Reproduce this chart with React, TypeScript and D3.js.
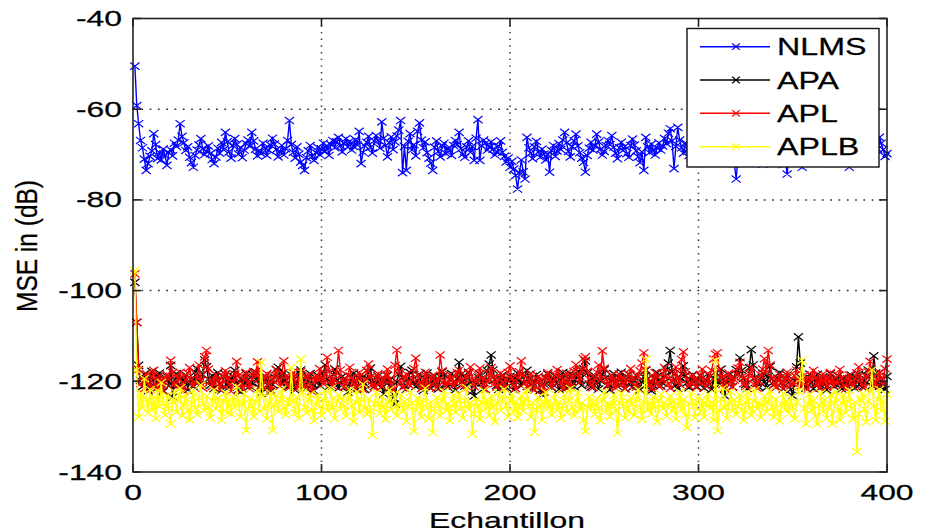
import React from "react";
import * as d3 from "d3";

const seriesNames = ["NLMS", "APA", "APL", "APLB"];
const seriesColors = ["#0000ff", "#000000", "#ff0000", "#ffff00"];
const xTicks = [0, 100, 200, 300, 400];
const yTicks = [-40, -60, -80, -100, -120, -140];

const nlms = [
  -50.5, -59.2, -63.2, -66.9, -68.5, -71.0, -73.5, -72.0, -70.4, -69.2, -65.4, -67.8, -70.9, -69.5, -71.2, -68.8, -70.1, -72.4, -69.6, -68.9,
  -70.3, -67.5, -68.2, -66.8, -63.2, -66.0, -67.4, -69.1, -68.3, -70.6, -71.8, -72.8, -70.2, -69.0, -67.9, -66.5, -68.7, -70.0, -69.3, -68.1,
  -69.8, -71.1, -72.0, -70.5, -68.6, -69.7, -67.3, -68.9, -65.1, -67.2, -69.4, -70.8, -68.0, -66.5, -67.8, -69.9, -68.4, -70.7, -69.0, -67.6,
  -66.8, -68.2, -65.1, -67.0, -68.8, -70.3, -69.1, -69.8, -67.5, -68.6, -70.2, -69.0, -67.9, -66.4, -67.7, -68.9, -70.5, -69.3, -68.0, -70.1,
  -68.7, -66.9, -62.5, -67.8, -69.5, -70.8, -68.3, -69.9, -71.6, -72.4, -73.5, -70.7, -69.2, -68.0, -70.4, -71.3, -69.6, -68.4, -70.0, -68.8,
  -67.5, -69.3, -68.1, -70.2, -67.8, -66.9, -68.5, -67.2, -66.2, -68.0, -69.4, -67.6, -66.5, -68.3, -67.1, -69.0, -68.2, -66.7, -67.9, -64.9,
  -72.0, -69.5, -68.1, -67.3, -66.0, -68.4, -69.7, -67.0, -65.8, -66.9, -68.6, -62.8, -66.4, -68.0, -70.5, -67.4, -66.1, -68.9, -67.2, -65.9,
  -64.6, -62.5, -74.0, -68.2, -73.5, -67.1, -65.4, -69.0, -67.8, -70.3, -64.9, -63.0, -66.8, -68.5, -67.2, -69.6, -70.8, -71.9, -73.5, -68.4,
  -67.0, -69.3, -70.5, -68.1, -67.5, -69.8, -68.6, -69.1, -70.2, -68.0, -66.9, -67.8, -65.1, -68.7, -69.9, -70.6, -68.3, -67.0, -69.5, -68.2,
  -71.3, -66.4, -62.3, -71.3, -68.1, -66.8, -67.5, -69.0, -68.4, -67.2, -68.8, -70.1, -69.4, -68.2, -67.0, -69.5, -70.4, -71.6, -70.8, -72.8,
  -71.5, -73.2, -74.6, -77.6, -74.0, -71.2, -73.8, -75.4, -66.2, -68.5, -69.7, -70.9, -68.3, -67.1, -69.4, -70.6, -68.8, -69.9, -71.2, -70.0,
  -73.9, -69.1, -68.0, -70.4, -69.2, -67.6, -68.9, -66.8, -65.1, -67.4, -69.3, -70.5, -68.2, -67.0, -65.5, -68.1, -69.6, -70.8, -71.7, -73.9,
  -70.2, -68.6, -67.3, -69.0, -68.1, -65.5, -67.2, -68.8, -70.1, -69.3, -68.0, -66.9, -67.8, -65.8, -68.4, -69.7, -70.9, -68.5, -67.3, -69.1,
  -68.2, -69.8, -70.6, -68.0, -66.6, -67.9, -69.2, -70.5, -71.8, -69.4, -73.5, -66.2, -68.3, -69.6, -67.7, -68.9, -70.1, -68.6, -67.4, -69.0,
  -68.1, -66.5, -67.6, -65.3, -64.3, -67.0, -73.1, -68.2, -64.0, -66.8, -68.5, -69.7, -67.4, -68.8, -70.2, -69.1, -67.9, -68.6, -70.0, -69.2,
  -68.4, -67.1, -69.5, -70.8, -68.7, -67.5, -69.0, -71.4, -68.3, -67.2, -69.6, -70.4, -68.1, -66.9, -68.8, -70.3, -71.6, -69.2, -72.0, -75.4,
  -70.1, -68.5, -67.3, -69.4, -70.7, -68.6, -67.8, -69.9, -71.2, -68.4, -67.0, -69.3, -70.5, -72.1, -69.0, -67.7, -68.9, -70.2, -71.5, -69.8,
  -68.3, -67.1, -69.0, -70.6, -72.2, -71.0, -74.3, -70.4, -68.8, -69.5, -71.3, -70.0, -68.6, -71.9, -72.8, -70.2, -68.9, -67.6, -69.8, -71.4,
  -69.3, -68.1, -70.0, -71.2, -69.6, -68.4, -67.2, -69.1, -70.5, -72.0, -70.3, -68.7, -69.9, -71.5, -70.1, -68.5, -69.4, -71.0, -70.2, -72.8,
  -70.6, -69.0, -68.2, -70.1, -71.3, -69.5, -68.0, -69.7, -70.9, -71.8, -69.3, -68.1, -67.4, -66.9, -68.8, -66.2, -67.5, -68.9, -70.4, -69.8,
];

const apa = [
  -98.2, -107.0, -116.5, -119.8, -121.2, -118.4, -120.6, -122.1, -119.3, -117.8, -120.9, -121.7, -119.0, -118.2, -120.4, -122.3, -119.6, -118.9, -121.0, -116.5,
  -123.5, -119.7, -118.3, -120.8, -121.5, -119.2, -120.1, -118.6, -121.9, -120.3, -119.4, -121.2, -118.0, -117.2, -119.9, -120.7, -118.5, -115.3, -116.8, -119.5,
  -120.9, -118.7, -121.6, -119.8, -118.1, -120.5, -122.0, -119.1, -118.4, -120.6, -121.3, -119.7, -118.9, -117.6, -120.2, -121.8, -122.4, -119.5, -120.8, -118.3,
  -119.6, -121.1, -120.3, -118.7, -117.9, -119.8, -121.4, -122.6, -120.0, -118.8, -119.5, -121.0, -122.2, -120.7, -119.1, -117.4, -116.9, -119.3, -120.6, -118.2,
  -119.9, -121.3, -120.4, -118.6, -119.7, -121.9, -120.2, -118.1, -117.5, -119.4, -120.8, -121.6, -119.0, -118.3, -120.5, -122.1, -119.8, -118.7, -120.9, -119.2,
  -118.0, -116.4, -119.6, -121.2, -120.1, -118.5, -117.3, -119.8, -121.5, -120.3, -118.9, -119.7, -121.0, -122.4, -120.6, -119.1, -118.2, -120.4, -121.7, -119.5,
  -118.6, -120.2, -121.8, -119.3, -118.0, -117.1, -119.9, -121.1, -120.5, -118.8, -119.6, -121.4, -122.8, -120.0, -118.7, -119.8, -121.3, -123.6, -125.0, -120.1,
  -118.4, -116.7, -119.2, -120.9, -121.8, -119.5, -118.1, -117.6, -120.3, -121.2, -119.8, -118.5, -120.7, -122.0, -119.4, -118.2, -120.6, -121.5, -119.9, -118.8,
  -120.1, -121.7, -119.0, -117.9, -118.6, -120.8, -121.3, -119.6, -118.3, -120.2, -121.9, -119.4, -115.8, -118.5, -120.0, -121.1, -119.3, -118.0, -120.5, -122.2,
  -123.2, -120.6, -119.1, -118.4, -120.3, -121.6, -119.8, -117.7, -116.2, -114.2, -117.5, -119.6, -120.9, -121.8, -119.3, -118.6, -120.1, -121.4, -119.7, -118.9,
  -120.4, -121.9, -119.5, -118.2, -119.8, -121.0, -120.3, -118.7, -117.6, -119.4, -120.8, -121.7, -119.9, -118.5, -120.2, -122.0, -123.0, -120.6, -119.2, -118.4,
  -120.0, -121.4, -119.7, -118.9, -120.5, -121.8, -119.3, -118.1, -120.7, -121.5, -119.6, -118.3, -120.1, -121.2, -119.0, -117.8, -119.5, -120.9, -117.2, -115.5,
  -118.2, -120.6, -121.3, -119.4, -118.8, -120.2, -121.7, -119.9, -118.5, -117.4, -119.1, -120.8, -121.9, -119.6, -118.3, -120.4, -121.1, -119.2, -118.0, -120.3,
  -121.6, -119.5, -118.4, -120.1, -121.3, -119.8, -118.6, -120.7, -121.9, -120.2, -119.0, -117.6, -119.4, -120.6, -122.1, -120.8, -119.3, -118.1, -119.7, -121.0,
  -120.4, -118.9, -117.5, -116.0, -113.2, -117.8, -119.6, -120.9, -121.5, -119.2, -118.4, -116.6, -118.8, -120.3, -121.4, -119.7, -118.5, -120.0, -121.2, -119.6,
  -118.7, -120.1, -121.5, -119.9, -118.3, -120.6, -121.8, -119.4, -118.0, -119.7, -120.8, -117.3, -119.5, -123.2, -120.4, -118.6, -119.9, -121.2, -119.0, -117.4,
  -118.5, -114.8, -117.6, -119.3, -120.7, -121.6, -117.0, -113.0, -116.4, -119.1, -120.5, -121.3, -119.6, -118.2, -120.1, -121.4, -118.9, -116.7, -119.5, -120.8,
  -121.2, -119.3, -118.1, -120.4, -121.7, -119.5, -118.6, -120.2, -121.8, -123.2, -119.9, -116.8, -110.2, -116.0, -119.4, -120.7, -121.5, -119.8, -118.4, -120.3,
  -121.6, -119.7, -118.5, -120.1, -121.4, -119.0, -120.6, -121.9, -119.4, -118.3, -120.0, -121.2, -119.6, -118.8, -120.5, -121.7, -119.3, -120.2, -121.0, -119.8,
  -118.6, -120.4, -121.5, -119.2, -118.4, -120.7, -121.3, -119.9, -118.7, -117.5, -119.6, -121.0, -114.4, -118.2, -120.3, -121.1, -119.4, -120.6, -121.8, -118.9,
];

const apl = [
  -96.3, -107.0, -117.4, -120.5, -119.1, -121.6, -118.3, -120.2, -121.9, -119.0, -117.6, -120.7, -121.4, -118.8, -119.9, -122.0, -120.3, -118.5, -119.6, -115.4,
  -118.1, -120.6, -121.3, -119.4, -118.0, -120.9, -122.1, -119.7, -118.2, -117.0, -119.5, -121.0, -120.2, -118.6, -116.4, -119.8, -121.5, -114.6, -113.2, -117.3,
  -119.9, -121.2, -120.4, -118.5, -119.7, -121.8, -120.6, -118.9, -117.7, -119.3, -120.8, -122.2, -120.0, -118.4, -115.6, -118.7, -120.5, -121.6, -119.2, -118.0,
  -120.3, -121.7, -119.6, -117.8, -118.5, -115.7, -119.4, -120.9, -121.5, -119.1, -118.3, -120.6, -121.9, -119.7, -118.6, -117.4, -119.8, -121.1, -118.2, -115.5,
  -118.9, -120.7, -121.4, -119.5, -118.1, -120.2, -121.6, -119.3, -117.9, -120.4, -121.2, -119.0, -118.5, -120.8, -122.3, -120.1, -118.8, -119.7, -117.2, -119.4,
  -120.6, -118.3, -114.7, -117.8, -119.9, -121.1, -119.6, -118.2, -113.2, -117.5, -119.8, -121.3, -120.0, -118.7, -116.9, -119.2, -120.5, -121.7, -119.3, -118.1,
  -120.4, -121.8, -119.7, -117.6, -116.2, -119.0, -120.8, -121.5, -119.4, -118.3, -120.1, -121.2, -119.8, -118.6, -117.3, -119.5, -120.7, -121.9, -116.5, -113.1,
  -117.9, -120.3, -121.4, -119.1, -118.4, -120.6, -121.0, -119.5, -117.2, -114.9, -118.6, -120.2, -121.6, -119.7, -118.0, -120.5, -121.3, -119.2, -118.7, -120.0,
  -121.5, -119.6, -114.2, -117.7, -119.9, -121.1, -120.3, -118.5, -119.4, -121.0, -120.2, -118.1, -117.5, -119.6, -120.8, -121.7, -119.0, -118.3, -116.8, -119.5,
  -121.2, -120.0, -118.6, -117.1, -119.3, -120.7, -121.8, -119.9, -118.4, -117.0, -119.2, -120.5, -121.3, -119.5, -118.2, -120.1, -121.5, -119.7, -118.0, -116.6,
  -119.4, -120.9, -121.6, -119.2, -117.9, -115.5, -118.8, -120.4, -121.2, -119.6, -118.3, -120.7, -121.9, -120.2, -118.9, -119.8, -121.0, -122.4, -119.5, -118.1,
  -119.7, -121.3, -120.0, -118.6, -117.4, -119.1, -120.6, -121.7, -119.8, -118.2, -120.3, -121.1, -119.0, -117.8, -116.3, -118.5, -120.2, -117.6, -115.0, -114.6,
  -117.8, -119.5, -120.8, -121.4, -119.3, -118.0, -116.4, -119.7, -113.3, -117.1, -119.6, -121.0, -120.4, -118.7, -119.9, -121.5, -120.1, -118.4, -119.2, -120.6,
  -121.7, -119.8, -118.5, -117.2, -119.4, -120.9, -121.3, -119.0, -117.7, -116.0, -113.7, -117.4, -119.6, -120.8, -121.6, -119.3, -118.1, -120.5, -121.2, -119.7,
  -118.3, -117.0, -119.1, -120.6, -121.5, -119.8, -118.4, -116.8, -119.3, -120.7, -115.2, -113.5, -117.9, -119.6, -121.0, -120.3, -118.7, -119.5, -121.4, -120.0,
  -118.6, -117.3, -119.8, -121.1, -120.4, -118.9, -117.6, -115.1, -114.0, -113.7, -117.5, -119.2, -120.7, -121.6, -119.4, -118.2, -120.0, -121.3, -119.7, -118.5,
  -117.1, -115.8, -119.0, -120.5, -121.2, -119.6, -118.3, -116.9, -119.4, -120.8, -121.5, -119.9, -118.6, -117.3, -115.0, -118.1, -113.2, -116.4, -119.3, -120.7,
  -121.4, -119.8, -118.5, -120.2, -121.6, -119.3, -118.0, -119.7, -121.0, -120.4, -118.8, -117.5, -119.9, -121.2, -120.3, -118.6, -119.5, -121.8, -120.1, -118.9,
  -117.6, -119.2, -120.6, -121.5, -119.7, -118.4, -120.0, -121.3, -119.6, -118.1, -119.8, -121.0, -120.2, -118.7, -117.4, -119.3, -120.9, -121.7, -119.4, -118.6,
  -120.3, -121.1, -119.5, -118.2, -116.8, -119.6, -120.8, -121.4, -119.0, -117.9, -115.6, -118.5, -120.1, -121.3, -119.7, -118.0, -119.4, -120.6, -117.2, -115.1,
];

const aplb = [
  -95.6, -117.5, -127.9, -122.6, -125.8, -119.4, -124.1, -127.0, -121.8, -126.3, -123.5, -128.2, -122.0, -125.6, -120.3, -124.8, -127.4, -123.1, -126.0, -129.4,
  -124.5, -122.3, -126.8, -124.0, -121.5, -127.6, -125.2, -123.0, -126.4, -128.5, -124.7, -122.1, -125.9, -127.3, -123.6, -120.8, -124.9, -126.5, -123.2, -125.7,
  -128.0, -124.3, -121.9, -126.1, -123.7, -125.4, -128.6, -124.2, -122.5, -126.9, -124.0, -127.2, -123.4, -125.8, -121.2, -124.6, -127.9, -125.1, -122.7, -130.8,
  -126.2, -123.9, -125.5, -127.8, -124.4, -122.0, -126.6, -115.8, -123.3, -126.0, -128.3, -124.8, -122.6, -130.8, -125.3, -123.1, -126.7, -124.5, -121.7, -125.9,
  -127.4, -123.8, -125.2, -117.0, -124.6, -126.9, -123.5, -128.1, -115.1, -122.4, -125.7, -127.0, -124.1, -122.8, -126.3, -128.7, -124.9, -123.0, -125.6, -127.5,
  -124.2, -122.1, -126.4, -124.7, -121.6, -125.8, -128.2, -124.3, -122.9, -126.1, -123.6, -125.4, -127.7, -124.0, -121.8, -125.5, -128.9, -124.6, -122.3, -126.8,
  -124.1, -120.6, -125.9, -127.3, -123.8, -126.5, -131.9, -125.0, -122.5, -124.9, -127.1, -123.4, -125.7, -128.4, -124.5, -121.9, -126.2, -124.3, -122.8, -127.6,
  -125.2, -123.0, -126.7, -124.4, -128.8, -125.6, -122.4, -124.8, -131.0, -126.3, -123.7, -125.1, -127.9, -124.2, -121.5, -125.8, -128.3, -124.6, -131.3, -126.0,
  -123.6, -125.3, -127.6, -124.1, -122.2, -126.4, -124.9, -128.7, -125.5, -123.1, -126.8, -124.5, -122.7, -125.9, -128.1, -124.3, -121.4, -126.2, -124.7, -131.6,
  -127.2, -123.9, -125.6, -128.4, -124.6, -122.0, -126.1, -124.4, -127.5, -123.3, -125.7, -128.9, -124.8, -122.6, -126.5, -124.0, -121.7, -125.3, -127.8, -124.2,
  -122.9, -126.7, -124.5, -128.0, -125.4, -123.2, -126.6, -124.1, -121.9, -125.6, -127.9, -124.7, -131.2, -126.3, -123.5, -125.2, -128.6, -124.9, -122.4, -126.0,
  -124.3, -127.4, -125.0, -122.8, -126.5, -124.6, -128.2, -125.3, -123.0, -126.9, -124.2, -121.6, -125.7, -127.6, -124.4, -122.5, -126.2, -124.8, -128.5, -131.0,
  -125.6, -123.4, -126.0, -124.5, -127.3, -123.8, -125.9, -128.7, -124.1, -122.3, -126.6, -124.9, -127.8, -125.2, -123.1, -126.4, -131.4, -124.7, -122.6, -125.5,
  -128.1, -124.3, -126.8, -123.6, -125.1, -127.5, -124.0, -121.8, -125.8, -128.4, -124.6, -115.1, -126.3, -124.8, -127.2, -123.5, -125.7, -128.9, -124.2, -122.9,
  -126.1, -124.7, -127.7, -125.3, -123.2, -126.6, -124.4, -128.3, -125.0, -122.4, -126.2, -124.1, -127.4, -130.2, -124.9, -122.7, -125.6, -128.0, -124.5, -123.4,
  -126.7, -124.2, -127.9, -125.1, -122.8, -126.0, -124.6, -128.5, -115.4, -130.9, -126.4, -124.0, -121.5, -125.8, -128.2, -124.8, -122.3, -126.5, -124.1, -127.3,
  -125.5, -123.0, -126.3, -128.6, -124.7, -122.5, -125.9, -127.5, -124.3, -121.9, -126.1, -124.9, -128.0, -125.2, -123.3, -126.8, -124.5, -122.1, -125.6, -127.9,
  -124.0, -126.6, -128.8, -125.0, -122.7, -126.2, -124.4, -127.1, -123.6, -125.8, -128.3, -124.6, -122.2, -119.5, -115.4, -126.0, -129.4, -124.9, -122.9, -126.4,
  -124.2, -127.6, -129.4, -125.3, -122.6, -126.7, -124.1, -128.1, -125.7, -123.0, -129.4, -124.7, -122.4, -126.3, -128.5, -124.8, -123.1, -126.9, -124.4, -122.0,
  -125.9, -128.4, -124.6, -135.5, -127.2, -124.1, -122.7, -126.1, -129.0, -124.5, -122.3, -117.5, -125.4, -128.6, -124.0, -121.8, -126.5, -124.3, -128.8, -122.9,
];

const allSeries = [nlms, apa, apl, aplb];

const W = 927;
const H = 532;
const M = { left: 133, right: 887, top: 18.5, bottom: 472 };
const FONT = "'Liberation Sans', Arial, Helvetica, sans-serif";
const SX = 1.48;

const xScale = d3.scaleLinear().domain([0, 400]).range([M.left, M.right]);
const yScale = d3.scaleLinear().domain([-140, -40]).range([M.bottom, M.top]);

const markerPath = (x: number, y: number, hw = 4.6, hh = 3.6) =>
  `M${x - hw},${y - hh}L${x + hw},${y + hh}M${x - hw},${y + hh}L${x + hw},${y - hh}`;

function STxt(props: { x: number; y: number; size: number; sx?: number; anchor?: string; children: React.ReactNode }) {
  const { x, y, size, sx = SX, anchor = "start", children } = props;
  return (
    <text
      transform={`translate(${x},${y}) scale(${sx},1)`}
      fontFamily={FONT}
      fontSize={size}
      textAnchor={anchor}
      fill="#000"
      stroke="#000"
      strokeWidth={0.25}
    >
      {children}
    </text>
  );
}

export default function App() {
  const line = d3
    .line<number>()
    .x((_, i) => xScale(i + 1))
    .y((d) => yScale(d));

  const gridX = xTicks.filter((t) => t > 0 && t < 400);
  const gridY = yTicks.filter((t) => t > -140 && t < -40);

  const legendX = 687;
  const legendY = 28.5;
  const legendW = 192;
  const legendH = 138.5;
  const legendRowY = [46.7, 80, 113.3, 146.7];

  return (
    <svg
      width={W}
      height={H}
      viewBox={`0 0 ${W} ${H}`}
      style={{ position: "absolute", left: 0, top: 0, display: "block", background: "#fff" }}
    >
      <rect x={0} y={0} width={W} height={H} fill="#fff" />
      {/* grid */}
      {gridX.map((t) => (
        <line
          key={`gx${t}`}
          x1={xScale(t)}
          x2={xScale(t)}
          y1={M.top}
          y2={M.bottom}
          stroke="#333"
          strokeWidth={1.5}
          strokeDasharray="1.4,5.3"
        />
      ))}
      {gridY.map((t) => (
        <line
          key={`gy${t}`}
          x1={M.left}
          x2={M.right}
          y1={yScale(t)}
          y2={yScale(t)}
          stroke="#333"
          strokeWidth={1.5}
          strokeDasharray="1.8,6.5"
        />
      ))}
      {/* series */}
      {allSeries.map((s, k) => (
        <g key={`s${k}`}>
          <path d={line(s) || ""} fill="none" stroke={seriesColors[k]} strokeWidth={1.4} />
          <path
            d={s.map((v, i) => markerPath(xScale(i + 1), yScale(v))).join("")}
            fill="none"
            stroke={seriesColors[k]}
            strokeWidth={1.2}
          />
        </g>
      ))}
      {/* axes frame */}
      <rect
        x={M.left}
        y={M.top}
        width={M.right - M.left}
        height={M.bottom - M.top}
        fill="none"
        stroke="#222"
        strokeWidth={1.6}
      />
      {/* ticks */}
      {xTicks.map((t) => (
        <g key={`xt${t}`}>
          <line x1={xScale(t)} x2={xScale(t)} y1={M.bottom} y2={M.bottom - 8} stroke="#222" strokeWidth={1.6} />
          <line x1={xScale(t)} x2={xScale(t)} y1={M.top} y2={M.top + 8} stroke="#222" strokeWidth={1.6} />
          <STxt x={xScale(t)} y={500} size={21.5} anchor="middle">
            {t}
          </STxt>
        </g>
      ))}
      {yTicks.map((t) => (
        <g key={`yt${t}`}>
          <line x1={M.left} x2={M.left + 8} y1={yScale(t)} y2={yScale(t)} stroke="#222" strokeWidth={1.6} />
          <line x1={M.right} x2={M.right - 8} y1={yScale(t)} y2={yScale(t)} stroke="#222" strokeWidth={1.6} />
          <STxt x={122} y={yScale(t) + 7.5} size={21.5} anchor="end">
            {t}
          </STxt>
        </g>
      ))}
      {/* axis labels */}
      <STxt x={507} y={528} size={22} sx={1.45} anchor="middle">
        Echantillon
      </STxt>
      <text
        transform={`translate(37,246) rotate(-90) scale(1,1.2)`}
        fontFamily={FONT}
        fontSize={24.5}
        textAnchor="middle"
        fill="#000"
        stroke="#000"
        strokeWidth={0.25}
      >
        MSE in (dB)
      </text>
      {/* legend */}
      <rect x={legendX} y={legendY} width={legendW} height={legendH} fill="#fff" stroke="#111" strokeWidth={1.4} />
      {seriesNames.map((n, k) => (
        <g key={`lg${k}`}>
          <line x1={700} x2={770} y1={legendRowY[k]} y2={legendRowY[k]} stroke={seriesColors[k]} strokeWidth={1.4} />
          <path d={markerPath(736, legendRowY[k], 3.8, 3.2)} stroke={seriesColors[k]} strokeWidth={1.2} fill="none" />
          <STxt x={777} y={legendRowY[k] + 8.5} size={23} sx={1.4}>
            {n}
          </STxt>
        </g>
      ))}
    </svg>
  );
}
